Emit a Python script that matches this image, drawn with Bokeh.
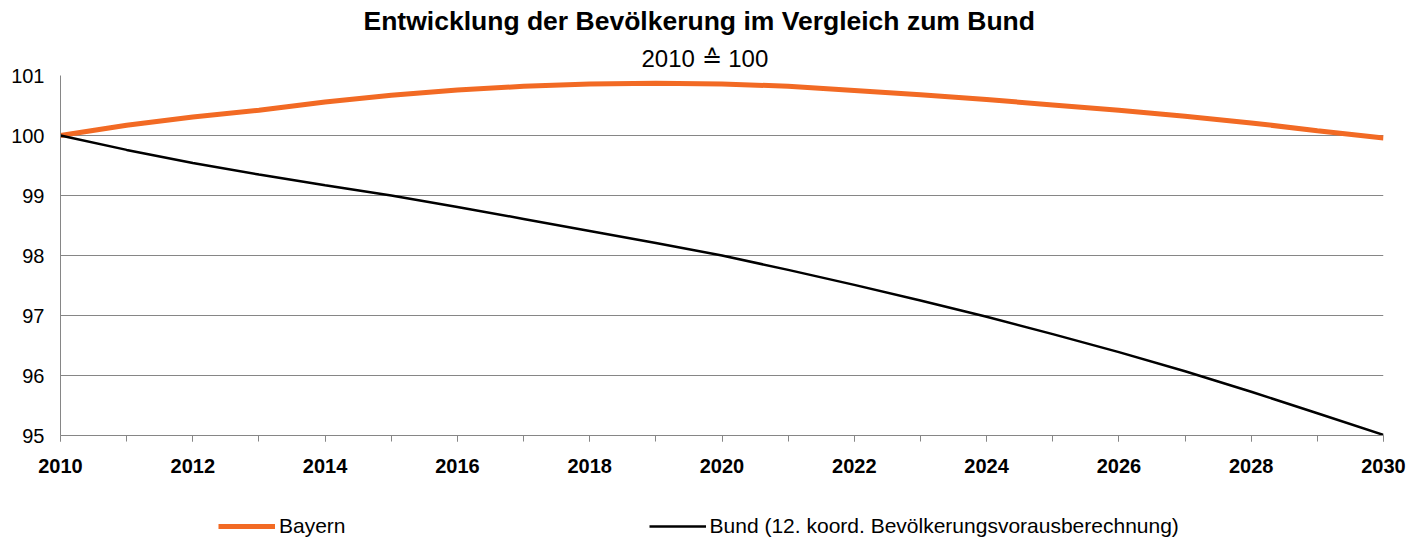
from bokeh.plotting import figure
from bokeh.models import FixedTicker, Legend, LegendItem, Title, Range1d
from bokeh.layouts import column
from bokeh.embed import file_html
from bokeh.resources import INLINE

years = list(range(2010, 2031))
bayern = [100.0, 100.17, 100.31, 100.42, 100.56, 100.67, 100.76, 100.82, 100.86, 100.87,
          100.86, 100.82, 100.75, 100.68, 100.60, 100.51, 100.42, 100.32, 100.21, 100.08, 99.96]
bund = [100.0, 99.76, 99.54, 99.35, 99.17, 99.0, 98.81, 98.61, 98.41, 98.21,
        98.0, 97.76, 97.51, 97.25, 96.98, 96.69, 96.39, 96.07, 95.73, 95.37, 95.01]
y_ticks = [95, 96, 97, 98, 99, 100, 101]
x_label_years = list(range(2010, 2031, 2))

title_text = "Entwicklung der Bevölkerung im Vergleich zum Bund"
subtitle_text = "2010 \u2259 100"
legend_labels = ["Bayern", "Bund (12. koord. Bevölkerungsvorausberechnung)"]

FONT = "Liberation Sans"
GRID = "#868686"
ORANGE = "#F26A24"

p = figure(width=1423, height=490, output_backend="svg", toolbar_location=None,
           title=None, x_range=Range1d(2010, 2030), y_range=Range1d(95, 101),
           min_border_left=60, min_border_right=40, min_border_top=60, min_border_bottom=55)
p.outline_line_color = None
p.background_fill_color = "white"
p.border_fill_color = "white"

p.add_layout(Title(text=subtitle_text, align="left", offset=581, standoff=8, text_font=FONT,
                   text_font_size="24px", text_font_style="normal", text_color="black"), "above")
p.add_layout(Title(text=title_text, align="left", offset=303, standoff=6, text_font=FONT,
                   text_font_size="26.5px", text_font_style="bold", text_color="black"), "above")

p.line(years, bayern, line_color=ORANGE, line_width=5)
p.line(years, bund, line_color="black", line_width=2.5)

xa = p.xaxis[0]
xa.ticker = FixedTicker(ticks=x_label_years, minor_ticks=years)
xa.major_label_text_font = FONT
xa.major_label_text_font_size = "20px"
xa.major_label_text_font_style = "bold"
xa.major_label_text_color = "black"
xa.axis_line_color = GRID
xa.major_tick_line_color = GRID
xa.minor_tick_line_color = GRID
xa.major_tick_in = 0
xa.minor_tick_in = 0
xa.major_tick_out = 6
xa.minor_tick_out = 6
xa.major_label_standoff = 17

ya = p.yaxis[0]
ya.ticker = FixedTicker(ticks=y_ticks)
ya.major_label_text_font = FONT
ya.major_label_text_font_size = "20px"
ya.major_label_text_color = "black"
ya.axis_line_color = GRID
ya.major_tick_line_color = None
ya.minor_tick_line_color = None
ya.major_tick_out = 0
ya.major_label_standoff = 16

p.xgrid.grid_line_color = None
p.ygrid.grid_line_color = GRID
p.ygrid.grid_line_width = 1

# legend strip below the chart (its frame is aligned with the chart frame)
lg = figure(width=1423, height=51, output_backend="svg", toolbar_location=None,
            x_range=Range1d(0, 1), y_range=Range1d(0, 1),
            min_border_left=0, min_border_right=0, min_border_top=0, min_border_bottom=0)
lg.axis.visible = False
lg.grid.visible = False
lg.outline_line_color = None
lg.background_fill_color = "white"
lg.border_fill_color = "white"
l1 = lg.line(years, bayern, line_color=ORANGE, line_width=5)
l2 = lg.line(years, bund, line_color="black", line_width=2.5)
legend = Legend(items=[LegendItem(label=legend_labels[0], renderers=[l1]),
                       LegendItem(label=legend_labels[1], renderers=[l2])],
                orientation="horizontal", location=(158, 3),
                label_text_font=FONT, label_text_font_size="21px", label_text_color="black",
                glyph_width=57, glyph_height=20, label_standoff=4, spacing=303,
                padding=0, margin=0, border_line_color=None, background_fill_alpha=0)
lg.add_layout(legend, "center")

layout = column(p, lg, spacing=0)
open("out.html", "w").write(file_html(layout, INLINE))
